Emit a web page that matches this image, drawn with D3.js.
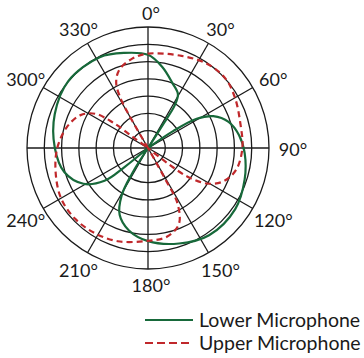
<!DOCTYPE html>
<html lang="en">
<head>
<meta http-equiv="Content-Type" content="text/html; charset=utf-8" />
<title>Microphone Polar Pattern</title>
<style>
   html,body { margin:0; padding:0; background:white; }
   svg { display:block; font-family:Lato, "DejaVu Sans", sans-serif; }
</style>
<script src="https://d3js.org/d3.v7.min.js"></script>
</head>
<body>
<script>
// angular ticks (270 is cut off in the original)
let tickAngles = [0,30,60,90,120,150,180,210,240,300,330];
let tickLabels = ['0°','30°','60°','90°','120°','150°','180°','210°','240°','300°','330°'];
let ringCount = 7;
let spokeAngles = d3.range(0,360,30);

// lower microphone (solid), angle in degrees, level relative to outer ring
let lowerAngle = [54,56,59,64,72,82,93,108,125,145,162,180,193,203,209,212,212,
                  232,231,233,241,254,270,290,310,332,346,360,370,381,389,392,392.5,392];
let lowerLevel = [0,.25,.47,.60,.70,.76,.80,.84,.88,.88,.83,.77,.70,.60,.45,.25,0,
                  0,.25,.45,.61,.72,.77,.82,.86,.85,.81,.77,.68,.57,.51,.42,.22,0];

// upper microphone (dashed)
let upperAngle = [330,330,331,334,340,350,360,380,395,408,420,435,450,464,474,481,486,488,488,
                  152,151,152,158,168,182,198,212,226,240,255,270,285,296,303,306,306,306];
let upperLevel = [0,.30,.46,.60,.69,.75,.78,.81,.85,.86,.83,.79,.78,.75,.68,.57,.40,.20,0,
                  0,.30,.52,.68,.75,.77,.81,.83,.84,.83,.79,.75,.69,.62,.52,.35,.15,0];

let series = [
   {name:'Lower Microphone', color:'#17693a', dash:null, angle:lowerAngle, level:lowerLevel},
   {name:'Upper Microphone', color:'#c0282b', dash:'6,4', angle:upperAngle, level:upperLevel},
];

let width = 364, height = 358;
let cx = 148, cy = 148, outer = 121;
let r = d3.scaleLinear().domain([0,1]).range([0,outer]);
let rad = d => d*Math.PI/180;

const svg = d3.select('body').append('svg')
   .attr('width',width).attr('height',height)
   .attr('viewBox',[0,0,width,height]);
const g = svg.append('g').attr('transform',`translate(${cx},${cy})`);

// grid rings
g.append('g').attr('class','rings')
   .selectAll('circle')
   .data(d3.range(1,ringCount+1).map(i => i/ringCount))
   .join('circle')
   .attr('r', d => r(d))
   .attr('fill','none')
   .attr('stroke','#1a1a1a')
   .attr('stroke-width',1.3);

// spokes
g.append('g').attr('class','spokes')
   .selectAll('line')
   .data(spokeAngles)
   .join('line')
   .attr('x1',0).attr('y1',0)
   .attr('x2', d => r(1)*Math.sin(rad(d)))
   .attr('y2', d => -r(1)*Math.cos(rad(d)))
   .attr('stroke','#1a1a1a')
   .attr('stroke-width',1.3);

// angle labels, nudged right on the right half like the original
let labelR = d => r(1)+15+6*Math.abs(Math.sin(rad(d)));
g.append('g').attr('class','labels')
   .selectAll('text')
   .data(tickAngles)
   .join('text')
   .attr('x', d => labelR(d)*Math.sin(rad(d))+(d<=180?3:0))
   .attr('y', d => -labelR(d)*Math.cos(rad(d))+2)
   .attr('text-anchor','middle')
   .attr('dy','0.36em')
   .attr('font-size',18)
   .attr('fill','#1a1a1a')
   .text((d,i) => tickLabels[i]);

// curves
let line = d3.lineRadial()
   .angle(d => rad(d[0]))
   .radius(d => r(d[1]))
   .curve(d3.curveCatmullRom.alpha(0.5));

g.append('g').attr('class','curves')
   .selectAll('path')
   .data(series)
   .join('path')
   .attr('d', s => line(s.angle.map((a,i) => [a, s.level[i]])))
   .attr('fill','none')
   .attr('stroke', s => s.color)
   .attr('stroke-width',2.2)
   .attr('stroke-dasharray', s => s.dash);

// legend
let legend = svg.append('g').attr('class','legend')
   .selectAll('g')
   .data(series)
   .join('g')
   .attr('transform',(d,i) => `translate(145,${320+i*23})`);
legend.append('line')
   .attr('x1',0).attr('x2',48)
   .attr('stroke', d => d.color)
   .attr('stroke-width',2)
   .attr('stroke-dasharray', d => d.dash ? '8,4' : null);
legend.append('text')
   .attr('x',54).attr('dy','0.36em')
   .attr('font-size',19.5)
   .attr('fill','#1a1a1a')
   .text(d => d.name);
</script>
</body>
</html>
